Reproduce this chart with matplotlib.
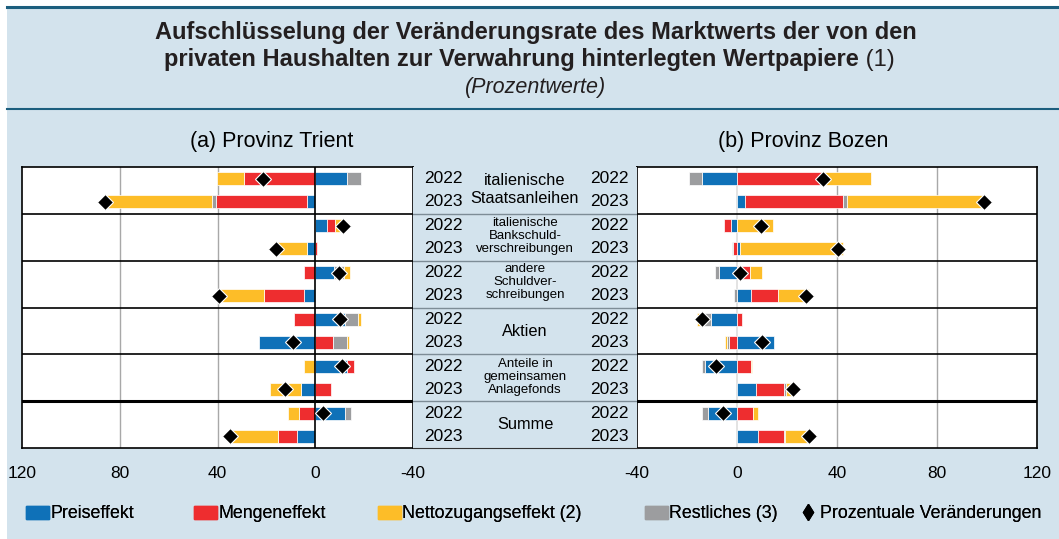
import matplotlib.pyplot as plt
from matplotlib.lines import Line2D
from matplotlib.patches import Patch, Rectangle
import numpy as np

plt.rcParams['font.family'] = ['Liberation Sans', 'DejaVu Sans']
plt.rcParams['axes.unicode_minus'] = False

# categories (top to bottom), each with a 2022 and a 2023 row
categories = ['italienische\nStaatsanleihen',
              'italienische\nBankschuld-\nverschreibungen',
              'andere\nSchuldver-\nschreibungen',
              'Aktien',
              'Anteile in\ngemeinsamen\nAnlagefonds',
              'Summe']
years = ['2022', '2023']

# rows: cat1 2022, cat1 2023, cat2 2022, ...  (percent)
trient_preis = [-13.1, 3.4, -5.0, 3.4, -7.5, 4.6, -12.3, 23.0, -13.1, 6.0, -12.3, 7.3]
trient_menge = [29.0, 37.2, -2.9, -0.9, 4.8, 16.2, 8.6, -7.4, -2.6, -6.3, 6.6, 7.9]
trient_netto = [11.1, 43.4, -3.4, 13.4, -2.7, 18.2, -1.2, -0.8, 4.8, 12.4, 4.5, 19.3]
trient_rest = [-5.5, 1.8, 0.0, 0.0, -4.1, 0.0, -5.3, -5.7, 0.0, 0.0, -2.2, 0.0]
trient_total = [21.5, 86.0, -11.5, 16.0, -9.6, 39.2, -10.1, 9.2, -10.9, 12.4, -3.3, 35.0]

bozen_preis = [-14.0, 3.3, -2.3, 1.2, -7.2, 5.7, -10.4, 14.9, -12.8, 7.6, -11.7, 8.5]
bozen_menge = [34.3, 39.1, -2.8, -1.6, 5.2, 10.7, 2.0, -3.3, 5.5, 11.2, 6.4, 10.3]
bozen_netto = [19.2, 54.5, 14.5, 41.1, 4.8, 12.5, -1.9, -0.8, 0.5, 2.7, 2.0, 9.5]
bozen_rest = [-5.2, 1.6, 0.0, -0.3, -1.6, -1.2, -3.6, -0.9, -1.2, 0.9, -2.3, 0.4]
bozen_total = [34.3, 98.8, 9.6, 40.4, 1.3, 27.7, -14.0, 9.9, -8.3, 22.4, -5.6, 28.7]

legend_labels = ['Preiseffekt', 'Mengeneffekt', 'Nettozugangseffekt (2)',
                 'Restliches (3)', 'Prozentuale Veränderungen']

W, H = 1059, 539
BG = '#d3e3ed'
NAVY = '#1b5e7e'
INK = '#231f20'
BLUE, RED, YELLOW, GRAY = '#0f71b8', '#ee2d2f', '#fdbd28', '#9c9d9f'


def box(x0, y0, x1, y1):
    # pixel box -> figure fraction
    return [x0 / W, 1 - y1 / H, (x1 - x0) / W, (y1 - y0) / H]


ypos = np.repeat(np.arange(len(categories)), 2) + np.tile([0.255, 0.745], len(categories))


def draw(ax, preis, menge, netto, rest, total):
    pos = np.zeros(len(ypos))
    neg = np.zeros(len(ypos))
    # stacking order of the original: price, quantity, residual, net flows
    for vals, col in [(preis, BLUE), (menge, RED), (rest, GRAY), (netto, YELLOW)]:
        v = np.array(vals)
        left = np.where(v >= 0, pos, neg)
        ax.barh(ypos, v, left=left, height=0.28, color=col,
                edgecolor='white', linewidth=0.5, zorder=3)
        pos += np.clip(v, 0, None)
        neg += np.clip(v, None, 0)
    ax.plot(total, ypos, 'D', color='black', mec='white', mew=0.8, ms=8, zorder=5)

    ax.set_ylim(len(categories), 0)
    ax.set_yticks([])
    ax.set_xticks([-40, 0, 40, 80, 120])
    ax.tick_params(axis='x', length=0, pad=13, labelsize=12.5)
    for x in [40, 80]:
        ax.axvline(x, color='#a8a8a8', lw=1, zorder=1)
    for i in range(1, len(categories)):
        ax.axhline(i, color='black', lw=2.2 if i == 5 else 1.2, zorder=6)
    for s in ax.spines.values():
        s.set_linewidth(1.2)
        s.set_zorder(7)


fig = plt.figure(figsize=(W / 100, H / 100), dpi=100)
fig.patch.set_facecolor('white')
fig.add_artist(Rectangle((7 / W, 0), 1 - 7 / W, 1 - 7 / H, transform=fig.transFigure,
                         facecolor=BG, edgecolor='none', zorder=-1))
fig.add_artist(Line2D([7 / W, 1], [1 - 7 / H] * 2, color=NAVY, lw=2.2))
fig.add_artist(Line2D([7 / W, 1], [1 - 109 / H] * 2, color=NAVY, lw=1.5))

# left panel: Trient (x reversed)
ax1 = fig.add_axes(box(22, 167, 413, 448))
draw(ax1, trient_preis, trient_menge, trient_netto, trient_rest, trient_total)
ax1.set_xlim(120, -40)
ax1.axvline(0, color='black', lw=1.2, zorder=4)

# right panel: Bozen
ax2 = fig.add_axes(box(637, 167, 1037, 448))
draw(ax2, bozen_preis, bozen_menge, bozen_netto, bozen_rest, bozen_total)
ax2.set_xlim(-40, 120)
ax2.axvline(0, color='#dedede', lw=1.2, zorder=1)

# middle strip with labels
axm = fig.add_axes(box(413, 167, 637, 448))
axm.set_facecolor(BG)
axm.set_xlim(0, 1)
axm.set_ylim(len(categories), 0)
axm.set_xticks([])
axm.set_yticks([])
for side in ['top', 'left', 'right']:
    axm.spines[side].set_visible(False)
axm.spines['bottom'].set_color('#333333')
for i in range(1, len(categories)):
    axm.axhline(i, color='#7d8c96', lw=1)
label_y = [0.49, 0.48, 0.45, 0.51, 0.48, 0.49]
for g, cat in enumerate(categories):
    for k, yr in enumerate(years):
        axm.text(0.134, ypos[2 * g + k], yr, ha='center', va='center', fontsize=12.5)
        axm.text(0.875, ypos[2 * g + k], yr, ha='center', va='center', fontsize=12.5)
    small = cat.count('\n') > 1
    axm.text(0.5, g + label_y[g], cat, ha='center', va='center',
             fontsize=9.5 if small else 11.8, linespacing=1.1 if small else 1.25)

# titles
fig.text(536 / W, 1 - 32 / H, 'Aufschlüsselung der Veränderungsrate des Marktwerts der von den',
         ha='center', va='center', fontsize=17, fontweight='bold', color=INK)
t2 = fig.text(164 / W, 1 - 60 / H, 'privaten Haushalten zur Verwahrung hinterlegten Wertpapiere',
              ha='left', va='center', fontsize=17, fontweight='bold', color=INK)
fig.canvas.draw()
ext = t2.get_window_extent()
fig.text(ext.x1 / W, 1 - 60 / H, ' (1)', fontsize=17, color=INK, va='center', ha='left')
fig.text(536 / W, 1 - 87 / H, '(Prozentwerte)', ha='center', va='center',
         fontsize=15.5, style='italic', color=INK)
fig.text(272 / W, 1 - 141 / H, '(a) Provinz Trient', ha='center', va='center', fontsize=15.5)
fig.text(803 / W, 1 - 141 / H, '(b) Provinz Bozen', ha='center', va='center', fontsize=15.5)

# legend, one entry at a time to follow the original spacing
handles = [Patch(color=BLUE), Patch(color=RED), Patch(color=YELLOW), Patch(color=GRAY),
           Line2D([], [], marker='d', color='black', ls='none', ms=8)]
leg_x = [26, 194, 378, 645, 796]
for h, lab, x in zip(handles, legend_labels, leg_x):
    lg = fig.legend([h], [lab], loc='center left', bbox_to_anchor=(x / W, 1 - 514 / H),
                    frameon=False, fontsize=12.8, borderpad=0, borderaxespad=0,
                    handlelength=1.3, handletextpad=0.05)
    fig.add_artist(lg)

fig.savefig('out.png', dpi=100, facecolor=fig.get_facecolor())
